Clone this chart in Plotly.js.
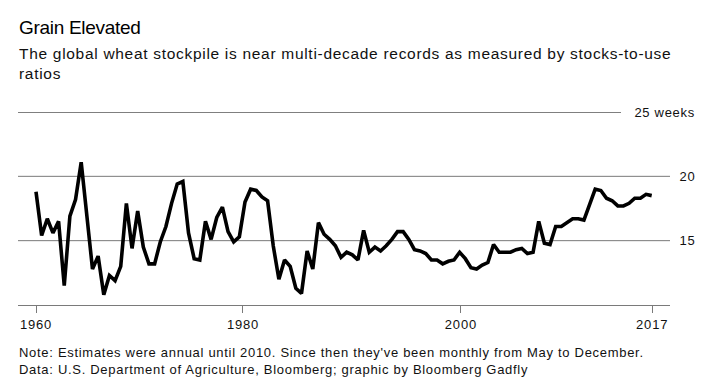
<!DOCTYPE html>
<html>
<head>
<meta charset="utf-8">
<script src="https://cdn.plot.ly/plotly-3.0.1.min.js"></script>
<style>
  html, body { margin: 0; padding: 0; background: #fff; }
  #chart { width: 720px; height: 389px; }
  #chart .annotation text { letter-spacing: 0.7px; }
  #chart .annotation[data-index="0"] text { letter-spacing: -0.3px; }
  #chart .xtick text { letter-spacing: 0.8px; }
</style>
</head>
<body>
<div id="chart"></div>
<script>
// Stocks-to-use ratio, in weeks, one value per observation (annual, then monthly)
const weeks = [
  18.8, 15.4, 16.7, 15.6, 16.5, 11.5, 16.9, 18.2, 21.1, 17.0,
  12.8, 13.8, 10.8, 12.3, 11.9, 13.0, 17.9, 14.4, 17.3, 14.5,
  13.2, 13.2, 14.9, 16.1, 17.9, 19.4, 19.6, 15.6, 13.6, 13.5,
  16.5, 15.1, 16.8, 17.6, 15.7, 14.9, 15.3, 18.0, 19.0, 18.9,
  18.4, 18.1, 14.6, 12.0, 13.5, 13.0, 11.3, 10.9, 14.2, 12.8,
  16.4, 15.5, 15.1, 14.6, 13.7, 14.1, 13.9, 13.5, 15.8, 14.1,
  14.5, 14.2, 14.6, 15.1, 15.7, 15.7, 15.1, 14.3, 14.2, 14.0,
  13.5, 13.5, 13.2, 13.4, 13.5, 14.1, 13.6, 12.9, 12.8, 13.1,
  13.3, 14.7, 14.1, 14.1, 14.1, 14.3, 14.4, 14.0, 14.1, 16.5,
  14.8, 14.7, 16.1, 16.1, 16.4, 16.7, 16.7, 16.6, 17.8, 19.0,
  18.9, 18.3, 18.1, 17.7, 17.7, 17.9, 18.3, 18.3, 18.6, 18.5
];
const obsIndex = weeks.map((_, i) => i);

const xTickLabels = ['1960', '1980', '2000', '2017'];
const xTickAt = [0, 36.64, 75.22, 109.08];   // observation index where each label sits

const gridValues = [25, 20, 15];
const gridLabels = ['25 weeks', '20', '15'];

const titleText = 'Grain Elevated';
const subtitleText = 'The global wheat stockpile is near multi-decade records as measured by stocks-to-use<br>ratios';
const noteText = "Note: Estimates were annual until 2010. Since then they've been monthly from May to December.";
const sourceText = 'Data: U.S. Department of Agriculture, Bloomberg; graphic by Bloomberg Gadfly';

// ---- layout geometry (pixels) ----
const W = 720, H = 389;
const L = 18, R = 50, T = 112, B = 84.3;
const plotW = W - L - R, plotH = H - T - B;
const px2paperX = px => (px - L) / plotW;
const px2paperY = py => (H - B - py) / plotH;

const FONT = '"Liberation Sans", Arial, Helvetica, sans-serif';

const shapes = gridValues.map((v, i) => ({
  type: 'line', xref: 'paper', yref: 'y',
  x0: 0, x1: i === 0 ? px2paperX(621) : 1,
  y0: v, y1: v,
  line: { color: i === 0 ? '#000000' : '#7a7a7a', width: 1 },
  layer: 'below'
}));

const annotations = [
  { text: titleText, x: px2paperX(17), y: px2paperY(28), xanchor: 'left', yanchor: 'middle',
    font: { family: FONT, size: 19, color: '#000' } },
  { text: subtitleText, x: px2paperX(17), y: px2paperY(43), xanchor: 'left', yanchor: 'top',
    font: { family: FONT, size: 15.5, color: '#111' } },
  { text: noteText, x: px2paperX(17), y: px2paperY(352), xanchor: 'left', yanchor: 'middle',
    font: { family: FONT, size: 13, color: '#111' } },
  { text: sourceText, x: px2paperX(17), y: px2paperY(369), xanchor: 'left', yanchor: 'middle',
    font: { family: FONT, size: 13, color: '#111' } }
].map(a => Object.assign(a, { align: 'left' }))
.concat(gridValues.map((v, i) => ({
  text: gridLabels[i], x: px2paperX(697), xanchor: 'right', align: 'right',
  y: v, yref: 'y', yanchor: 'middle',
  font: { family: FONT, size: 13, color: '#111' }
})));
annotations.forEach(a => { a.xref = 'paper'; if (!a.yref) a.yref = 'paper'; a.showarrow = false; });

const trace = {
  type: 'scatter', mode: 'lines',
  x: obsIndex, y: weeks,
  line: { color: '#000', width: 3.6, shape: 'linear' },
  hoverinfo: 'skip'
};

const spacing = (651.7 - 36) / (weeks.length - 1);
const layout = {
  width: W, height: H,
  margin: { l: L, r: R, t: T, b: B, pad: 0 },
  paper_bgcolor: '#fff', plot_bgcolor: '#fff',
  showlegend: false,
  font: { family: FONT, size: 13, color: '#111' },
  xaxis: {
    range: [(L - 36) / spacing, (W - R - 36) / spacing],
    tickmode: 'array', tickvals: xTickAt, ticktext: xTickLabels,
    ticks: 'outside', ticklen: 7, tickwidth: 1, tickcolor: '#7a7a7a',
    showline: true, linecolor: '#7a7a7a', linewidth: 1,
    showgrid: false, zeroline: false,
    tickfont: { family: FONT, size: 13, color: '#111' }
  },
  yaxis: {
    range: [10, 25], showgrid: false, zeroline: false, showticklabels: false,
    showline: false, ticks: ''
  },
  shapes: shapes,
  annotations: annotations
};

Plotly.newPlot('chart', [trace], layout, { displayModeBar: false, staticPlot: true });
</script>
</body>
</html>
